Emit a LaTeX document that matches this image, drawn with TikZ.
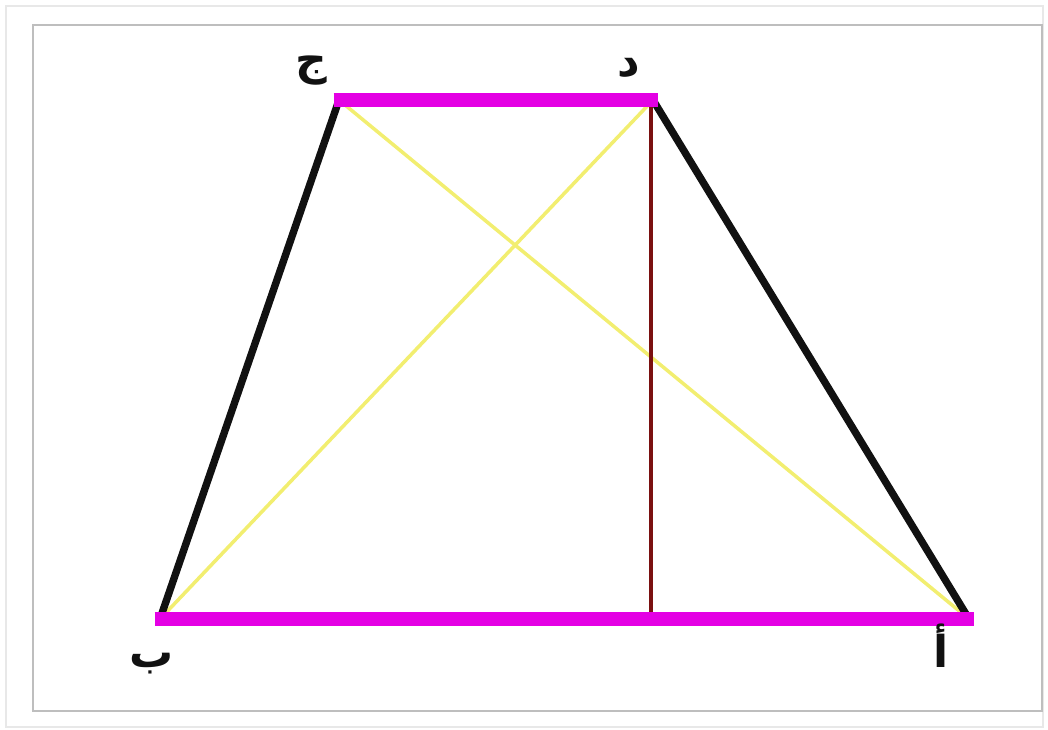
\documentclass[tikz,border=0pt]{standalone}
\usepackage{fontspec}
\newfontfamily\arabicfont[Script=Arabic]{DejaVu Sans}
\TeXXeTstate=1
\usetikzlibrary{positioning}
\definecolor{edgemagenta}{HTML}{E400E4}
\definecolor{diagyellow}{HTML}{F2EE70}
\definecolor{heightred}{HTML}{7A1010}
\definecolor{framegray}{HTML}{BEBEBE}
\definecolor{ink}{HTML}{111111}
\tikzset{
  base/.style={
    draw=edgemagenta,
    line width=7.6pt,
    shorten <=-3pt,
    shorten >=-3pt
  },
  side/.style={
    draw=ink,
    line width=4.2pt,
    line cap=round
  },
  diagonal/.style={
    draw=diagyellow,
    line width=2pt
  },
  height/.style={
    draw=heightred,
    line width=2.2pt
  },
  vlabel/.style={
    text=ink,
    inner sep=0pt,
    font=\arabicfont\bfseries\fontsize{25}{29}\selectfont
  }
}

\begin{document}
\begin{tikzpicture}[x=0.02cm,y=-0.02cm]
  \useasboundingbox (0,0) rectangle (1048,730);
  \draw[framegray!35, line width=1.2pt] (6,6) rectangle (1043,727);
  \draw[framegray, line width=1.6pt] (33,25) rectangle (1042,711);

  \coordinate (a) at (969,619);
  \coordinate (b) at (160,619);
  \coordinate (c) at (339,100);
  \coordinate (d) at (653,100);
  \coordinate (foot) at (651,619);

  \draw[diagonal] (c) -- (a);
  \draw[diagonal] (d) -- (b);
  \draw[height] (d -| foot) -- (foot);

  \draw[side] (b) -- (c);
  \draw[side] (d) -- (a);
  \draw[base] (b) -- (a);
  \draw[base] (c) -- (d);

  \node[vlabel] (la) at (941,646) {أ};
  \node[vlabel] (lb) at (152,664) {ب};
  \node[vlabel] (lc) at (311,71) {ج};
  \node[vlabel] (ld) at (629,68) {د};
\end{tikzpicture}
\end{document}
